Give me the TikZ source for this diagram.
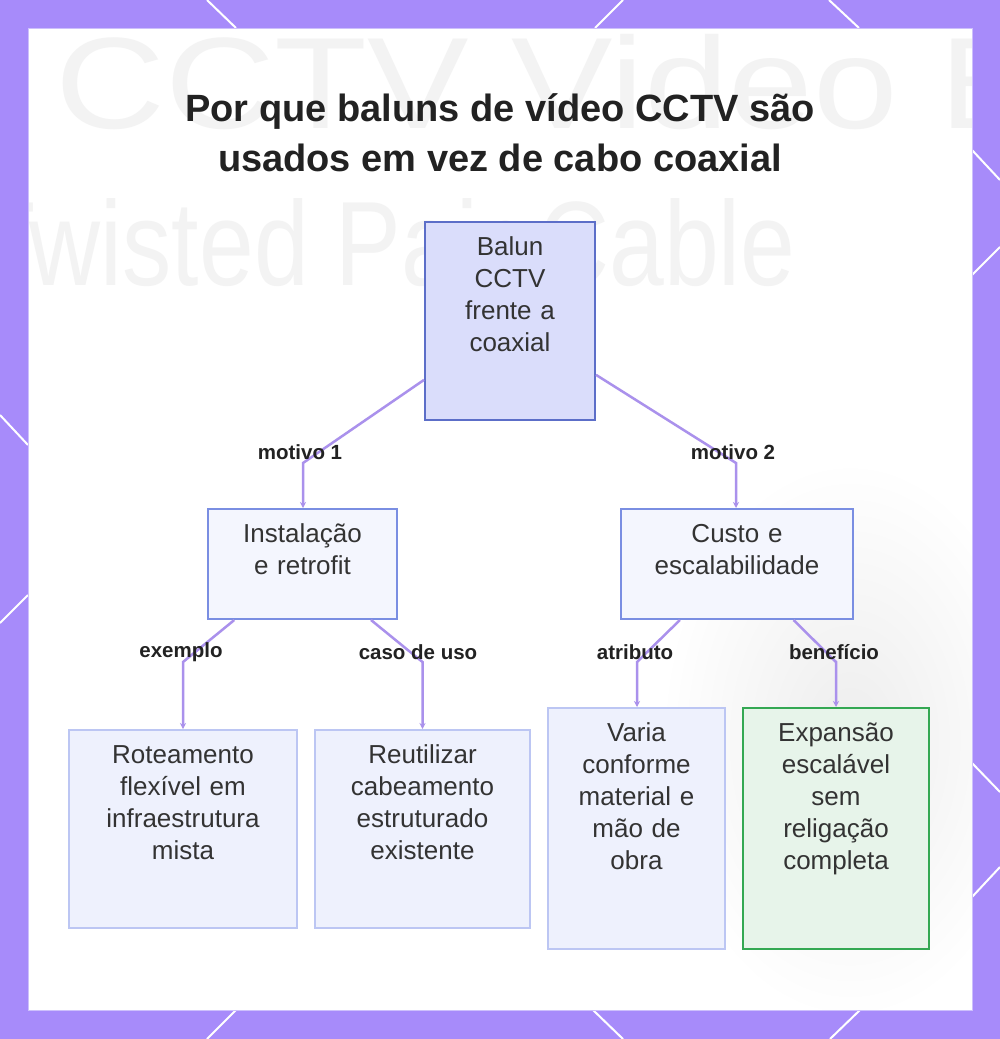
\documentclass[tikz,border=0pt]{standalone}
\usepackage{fontspec}
\setmainfont{Liberation Sans}
\usetikzlibrary{arrows.meta}

\definecolor{bgpurple}{RGB}{167,139,250}
\definecolor{panelline}{RGB}{205,192,252}
\definecolor{markgray}{RGB}{243,243,243}
\definecolor{rootfill}{RGB}{218,221,251}
\definecolor{rootdraw}{RGB}{92,110,200}
\definecolor{midfill}{RGB}{244,246,254}
\definecolor{middraw}{RGB}{122,142,226}
\definecolor{leaffill}{RGB}{238,241,253}
\definecolor{leafdraw}{RGB}{188,198,243}
\definecolor{goodfill}{RGB}{231,244,234}
\definecolor{gooddraw}{RGB}{52,168,83}
\definecolor{edgecol}{RGB}{170,145,236}
\definecolor{boxtext}{RGB}{51,51,51}
\definecolor{labeltext}{RGB}{34,34,34}

\begin{document}
\begin{tikzpicture}[x=1pt,y=-1pt,
  box/.style={draw,line width=2pt,anchor=north,inner xsep=0pt,inner ysep=0pt,
    align=center,text height=33pt,text=boxtext,font=\fontsize{26}{32}\selectfont},
  edge/.style={draw=edgecol,line width=2.5pt,-{Stealth[length=6pt,width=6pt]}},
  lbl/.style={text=labeltext,font=\bfseries\fontsize{20.5}{24}\selectfont},
  hexline/.style={white,line width=2pt}]
  \useasboundingbox (0,0) rectangle (1000,1039);
  \fill[bgpurple] (0,0) rectangle (1000,1039);
  \draw[hexline] (207,0) -- (236,28) (623,0) -- (595,28) (829,0) -- (859,28);
  \draw[hexline] (972,150) -- (1000,180) (1000,247) -- (972,275);
  \draw[hexline] (972,763) -- (1000,792) (1000,867) -- (972,897);
  \draw[hexline] (593,1010) -- (623,1039) (860,1010) -- (830,1039) (236,1010) -- (207,1039);
  \draw[hexline] (0,415) -- (28,445) (28,595) -- (0,623);
  \fill[white] (28,28) rectangle (972,1010);
  \begin{scope}
    \clip (28,28) rectangle (972,1010);
    \shade[inner color=black!7,outer color=white] (850,740) ellipse (190 and 280);
    \node[anchor=base west,inner sep=0pt,text=markgray,xscale=1.17,transform shape,
      font=\fontsize{130}{130}\selectfont] (mark1) at (55,128) {CCTV Video Balun};
    \node[anchor=base west,inner sep=0pt,text=markgray,xscale=0.82,transform shape,
      font=\fontsize{120}{120}\selectfont] (mark2) at (-25,285) {Twisted Pair Cable};
  \end{scope}
  \draw[panelline,line width=1pt] (28,28) rectangle (972,1010);

  \node[align=center,text=labeltext,font=\bfseries\fontsize{38}{50}\selectfont] (title) at (500,133)
    {Por que baluns de vídeo CCTV são\\usados em vez de cabo coaxial};

  \node[box,fill=rootfill,draw=rootdraw,text width=170pt,text depth=165pt] (root) at (510,221)
    {Balun\\CCTV\\frente a\\coaxial};
  \node[box,fill=midfill,draw=middraw,text width=189pt,text depth=77pt] (inst) at (302.5,508)
    {Instalação\\e retrofit};
  \node[box,fill=midfill,draw=middraw,text width=232pt,text depth=77pt] (custo) at (737,508)
    {Custo e\\escalabilidade};
  \node[box,fill=leaffill,draw=leafdraw,text width=228pt,text depth=165pt] (rote) at (183,729)
    {Roteamento\\flexível em\\infraestrutura\\mista};
  \node[box,fill=leaffill,draw=leafdraw,text width=215pt,text depth=165pt] (reut) at (422.5,729)
    {Reutilizar\\cabeamento\\estruturado\\existente};
  \node[box,fill=leaffill,draw=leafdraw,text width=177pt,text depth=208pt] (varia) at (636.5,707)
    {Varia\\conforme\\material e\\mão de\\obra};
  \node[box,fill=goodfill,draw=gooddraw,text width=186pt,text depth=208pt] (expa) at (836,707)
    {Expansão\\escalável\\sem\\religação\\completa};

  \coordinate (b1) at (303,463);
  \coordinate (b2) at (736,463);
  \coordinate (b3) at (183,662);
  \coordinate (b4) at (422.5,662);
  \coordinate (b5) at (637,662);
  \coordinate (b6) at (836,662);
  \draw[edge] (root) -- (b1) -- (b1 |- inst.north);
  \draw[edge] (root) -- (b2) -- (b2 |- custo.north);
  \draw[edge] (inst) -- (b3) -- (b3 |- rote.north);
  \draw[edge] (inst) -- (b4) -- (b4 |- reut.north);
  \draw[edge] (custo) -- (b5) -- (b5 |- varia.north);
  \draw[edge] (custo) -- (b6) -- (b6 |- expa.north);

  \node[lbl] (m1) at (300,452) {motivo 1};
  \node[lbl] (m2) at (733,452) {motivo 2};
  \node[lbl] (ex) at (181,652) {exemplo};
  \node[lbl] (uso) at (418,652) {caso de uso};
  \node[lbl] (atr) at (635,652) {atributo};
  \node[lbl] (ben) at (834,652) {benefício};
\end{tikzpicture}
\end{document}
